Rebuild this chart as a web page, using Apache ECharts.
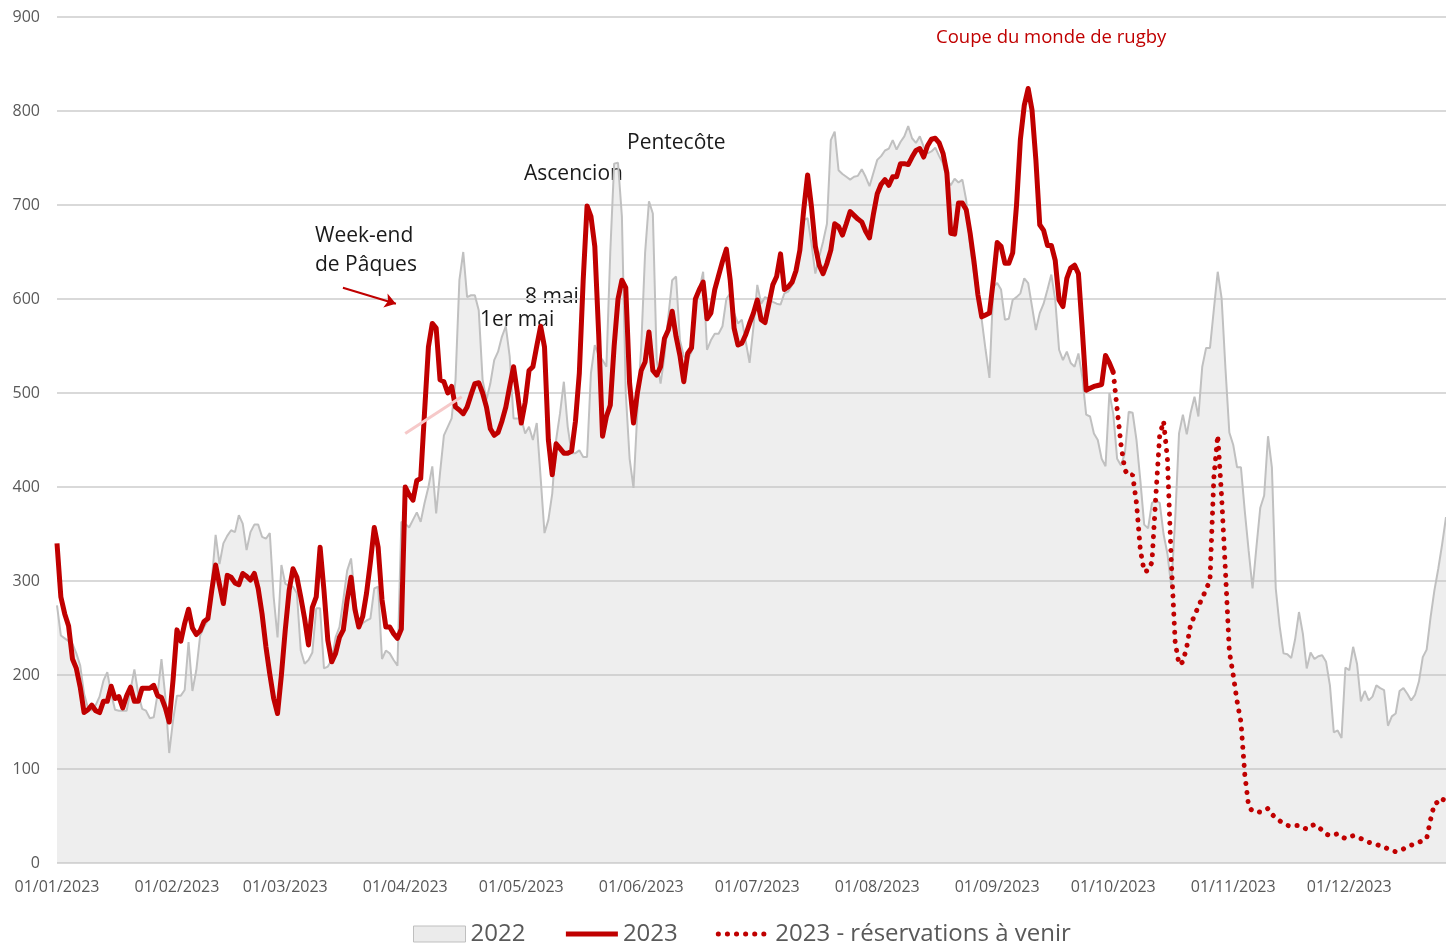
<!DOCTYPE html>
<html>
<head>
<meta charset="utf-8">
<script src="https://cdn.jsdelivr.net/npm/echarts@6/dist/echarts.min.js"></script>
<style>
  html,body{margin:0;padding:0;background:#fff;}
  #chart{width:1446px;height:944px;}
</style>
</head>
<body>
<div id="chart"></div>
<script>
// jours depuis le 01/01/2023 (index = jour)
const monthStarts = [0, 31, 59, 90, 120, 151, 181, 212, 243, 273, 304, 334];
const monthLabels = ['01/01/2023','01/02/2023','01/03/2023','01/04/2023','01/05/2023','01/06/2023',
  '01/07/2023','01/08/2023','01/09/2023','01/10/2023','01/11/2023','01/12/2023'];

// 2022 : une valeur par jour, du jour 0 au jour 359
const values2022 = [
  274,242,239,236,233,223,210,180,165,162, 168,177,194,203,180,163,162,162,162,184,
  206,180,164,162,154,155,180,217,177,117, 152,178,178,184,235,183,205,242,251,258,
  300,349,318,340,348,354,352,370,361,333, 352,360,360,347,345,351,283,240,317,297,
  295,294,287,226,212,216,224,271,271,207, 209,216,240,251,280,311,324,283,250,255,
  258,260,292,294,217,226,223,216,210,363, 361,357,365,373,363,383,400,422,372,415,
  455,464,473,514,620,650,602,604,604,588, 514,493,510,535,544,560,571,539,473,473,
  473,457,464,450,468,410,351,365,393,450, 478,512,464,436,436,439,432,432,521,551,
  540,535,528,650,744,745,688,500,430,399, 480,550,649,704,691,535,510,539,581,620,
  624,556,539,535,544,592,610,629,546,556, 563,563,571,600,606,585,574,578,555,532,
  570,615,595,602,600,597,595,594,606,608, 615,627,655,684,686,659,627,645,661,680,
  769,778,737,733,730,727,730,731,738,730, 720,734,748,752,758,760,769,759,767,773,
  784,771,766,773,762,755,757,761,752,744, 728,721,728,724,727,705,656,627,600,578,
  546,516,613,617,610,578,579,599,602,606, 622,617,592,567,585,595,610,626,599,546,
  535,544,532,528,542,517,477,475,457,450, 430,422,500,478,430,423,436,480,479,450,
  407,360,356,383,386,383,350,329,294,365, 457,477,456,479,496,475,528,548,548,589,
  629,601,526,458,445,421,421,374,332,292, 336,378,391,454,421,292,252,223,222,218,
  238,267,244,207,224,217,220,221,214,189, 139,141,133,208,205,230,212,172,183,173,
  177,189,186,184,146,156,159,183,186,180, 173,179,193,219,227,261,290,313,339,368
];

// 2023 réalisé : jours 0 à 273
const values2023 = [
  340,283,265,252,217,207,187,160,163,168, 162,160,172,172,188,175,177,165,178,187,
  172,172,186,186,186,189,178,176,165,150, 195,248,236,255,270,250,243,247,257,260,
  290,317,296,276,306,304,298,296,308,305, 301,308,292,265,230,201,175,159,200,248,
  290,313,304,283,260,232,272,283,336,290, 237,214,223,240,248,280,304,270,251,262,
  287,320,357,336,280,251,251,244,239,249, 400,392,386,407,409,480,549,574,569,514,
  512,500,507,485,482,478,485,498,510,511, 500,485,462,455,458,470,485,507,528,500,
  468,490,524,528,550,571,549,450,413,446, 441,436,436,438,470,521,620,699,688,656,
  563,454,475,487,550,600,620,612,510,468, 500,524,533,565,524,519,528,558,567,587,
  560,540,512,542,548,600,610,618,579,585, 610,625,640,653,620,569,551,553,562,574,
  585,599,578,575,595,615,624,648,610,613, 618,630,652,695,732,698,656,636,627,638,
  652,680,677,668,680,693,689,685,682,672, 665,690,712,722,727,721,730,730,744,744,
  743,751,758,760,751,763,770,771,766,755, 734,670,669,702,702,695,670,640,605,581,
  583,585,620,660,656,638,638,649,700,770, 806,824,801,748,679,673,657,657,641,599,
  592,622,633,636,627,567,503,505,507,508, 509,540,532,522
];

// 2023 réservations à venir : jours 273 à 359
const futureStart = 273;
const valuesFuture = [
  522,483,445,418,412,413,383,333,310,311, 320,390,455,470,430,320,235,211,214,230,
  254,263,273,282,291,301,410,455,390,310, 225,200,172,150,94,60,55,55,54,56,
  58,52,48,45,42,40,39,40,40,38, 36,39,41,38,35,31,29,30,31,28,
  26,28,29,27,26,24,22,21,20,18, 17,15,13,12,14,15,17,19,20,22,
  24,26,46,63,65,64,76
];

const RED = '#c00000';
const FONT = '"Open Sans", "Liberation Sans", sans-serif';
const DOTS = [0.1, 9];

const toPairs = (vals, start) => vals.map((v, i) => [start + i, v]);

const chart = echarts.init(document.getElementById('chart'), null, {renderer: 'canvas'});

function note(text, x, y, size, color){
  return {type: 'text', x: x, y: y, silent: true,
    style: {text: text, fill: color || '#1a1a1a', font: size + 'px ' + FONT, verticalAlign: 'middle'}};
}

chart.setOption({
  animation: false,
  backgroundColor: '#fff',
  grid: {left: 57, right: 0, top: 17, bottom: 81},
  xAxis: {
    type: 'value', min: 0, max: 359,
    splitLine: {show: false}, axisLine: {show: false}, axisTick: {show: false},
    axisLabel: {
      customValues: monthStarts,
      formatter: v => monthLabels[monthStarts.indexOf(v)] || '',
      color: '#595959', fontSize: 16, fontFamily: FONT, margin: 16
    }
  },
  yAxis: {
    type: 'value', min: 0, max: 900, interval: 100,
    axisLine: {show: false}, axisTick: {show: false},
    axisLabel: {color: '#595959', fontSize: 16, fontFamily: FONT, margin: 17},
    splitLine: {lineStyle: {color: '#d9d9d9', width: 2}}
  },
  legend: {
    left: 413, top: 922, padding: 0, itemGap: 38, itemWidth: 52, itemHeight: 16,
    textStyle: {color: '#595959', fontSize: 24, fontFamily: FONT},
    data: [
      {name: '2022', icon: 'rect', itemStyle: {color: '#ebebeb', borderColor: '#bfbfbf', borderWidth: 1}},
      {name: '2023', itemStyle: {opacity: 0},
       lineStyle: {width: 5, color: RED, type: 'solid'}},
      {name: '2023 - réservations à venir', itemStyle: {opacity: 0},
       lineStyle: {width: 5, color: RED, type: DOTS, cap: 'round'}}
    ]
  },
  series: [
    {
      name: '2022', type: 'line', symbol: 'none', z: 1,
      data: toPairs(values2022, 0),
      lineStyle: {color: '#c0c0c0', width: 2},
      itemStyle: {color: '#ebebeb'},
      areaStyle: {color: 'rgba(191,191,191,0.38)', origin: 'start'}
    },
    {
      name: '2023', type: 'line', symbol: 'none', z: 3,
      data: toPairs(values2023, 0),
      lineStyle: {color: RED, width: 5, join: 'round'},
      itemStyle: {color: RED},
      markLine: {
        silent: true, animation: false, label: {show: false},
        data: [
          [{coord: [73.9, 612], symbol: 'none'},
           {coord: [87.6, 595], symbol: 'arrow', symbolSize: 11,
            lineStyle: {color: RED, width: 2, type: 'solid'}}],
          [{coord: [90.0, 457], symbol: 'none'},
           {coord: [104.6, 496], symbol: 'none',
            lineStyle: {color: '#f6c9c9', width: 3, type: 'solid'}}]
        ]
      }
    },
    {
      name: '2023 - réservations à venir', type: 'line', symbol: 'none', z: 2,
      data: toPairs(valuesFuture, futureStart),
      lineStyle: {color: RED, width: 5, type: DOTS, cap: 'round'},
      itemStyle: {color: RED}
    }
  ],
  graphic: [
    note('Coupe du monde de rugby', 936, 38, 18.5, RED),
    note('Pentecôte', 627, 143, 21),
    note('Ascencion', 524, 174, 21),
    note('Week-end', 315, 236, 21),
    note('de Pâques', 315, 265, 21),
    note('8 mai', 525, 297, 21),
    note('1er mai', 480, 320, 21)
  ]
});
</script>
</body>
</html>
